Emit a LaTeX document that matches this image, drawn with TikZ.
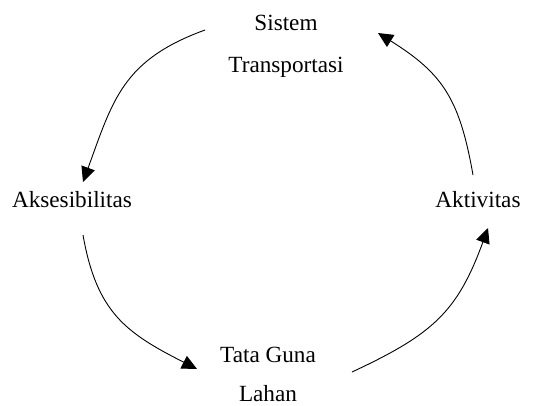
\documentclass[tikz,border=0pt]{standalone}
\usepackage{fontspec}
\setmainfont{Liberation Serif}
\usetikzlibrary{arrows.meta}
\begin{document}
\begin{tikzpicture}[x=1pt,y=-1pt,
  lbl/.style={anchor=base,inner sep=0pt,font=\fontsize{23.2}{28}\selectfont},
  conn/.style={line width=0.9pt,looseness=1.15,-{Triangle[length=15pt,width=14pt]}}]
\useasboundingbox (0,0) rectangle (539,405);
\node[lbl] (st1) at (286,30) {Sistem};
\node[lbl] (st2) at (286,72) {Transportasi};
\node[lbl] (ak) at (72,207) {Aksesibilitas};
\node[lbl] (av) at (478,207) {Aktivitas};
\node[lbl] (tg1) at (268,362) {Tata Guna};
\node[lbl] (tg2) at (268,401) {Lahan};
\coordinate (s1) at (205,30);
\coordinate (e1) at (83,182);
\coordinate (s2) at (83,235);
\coordinate (e2) at (197,369);
\coordinate (s3) at (352,372);
\coordinate (e3) at (488,228);
\coordinate (s4) at (473,175);
\coordinate (e4) at (378,33);
\draw[conn] (s1) to[out=200,in=70] (e1);
\draw[conn] (s2) to[out=280,in=153] (e2);
\draw[conn] (s3) to[out=25,in=250] (e3);
\draw[conn] (s4) to[out=100,in=328] (e4);
\end{tikzpicture}
\end{document}
